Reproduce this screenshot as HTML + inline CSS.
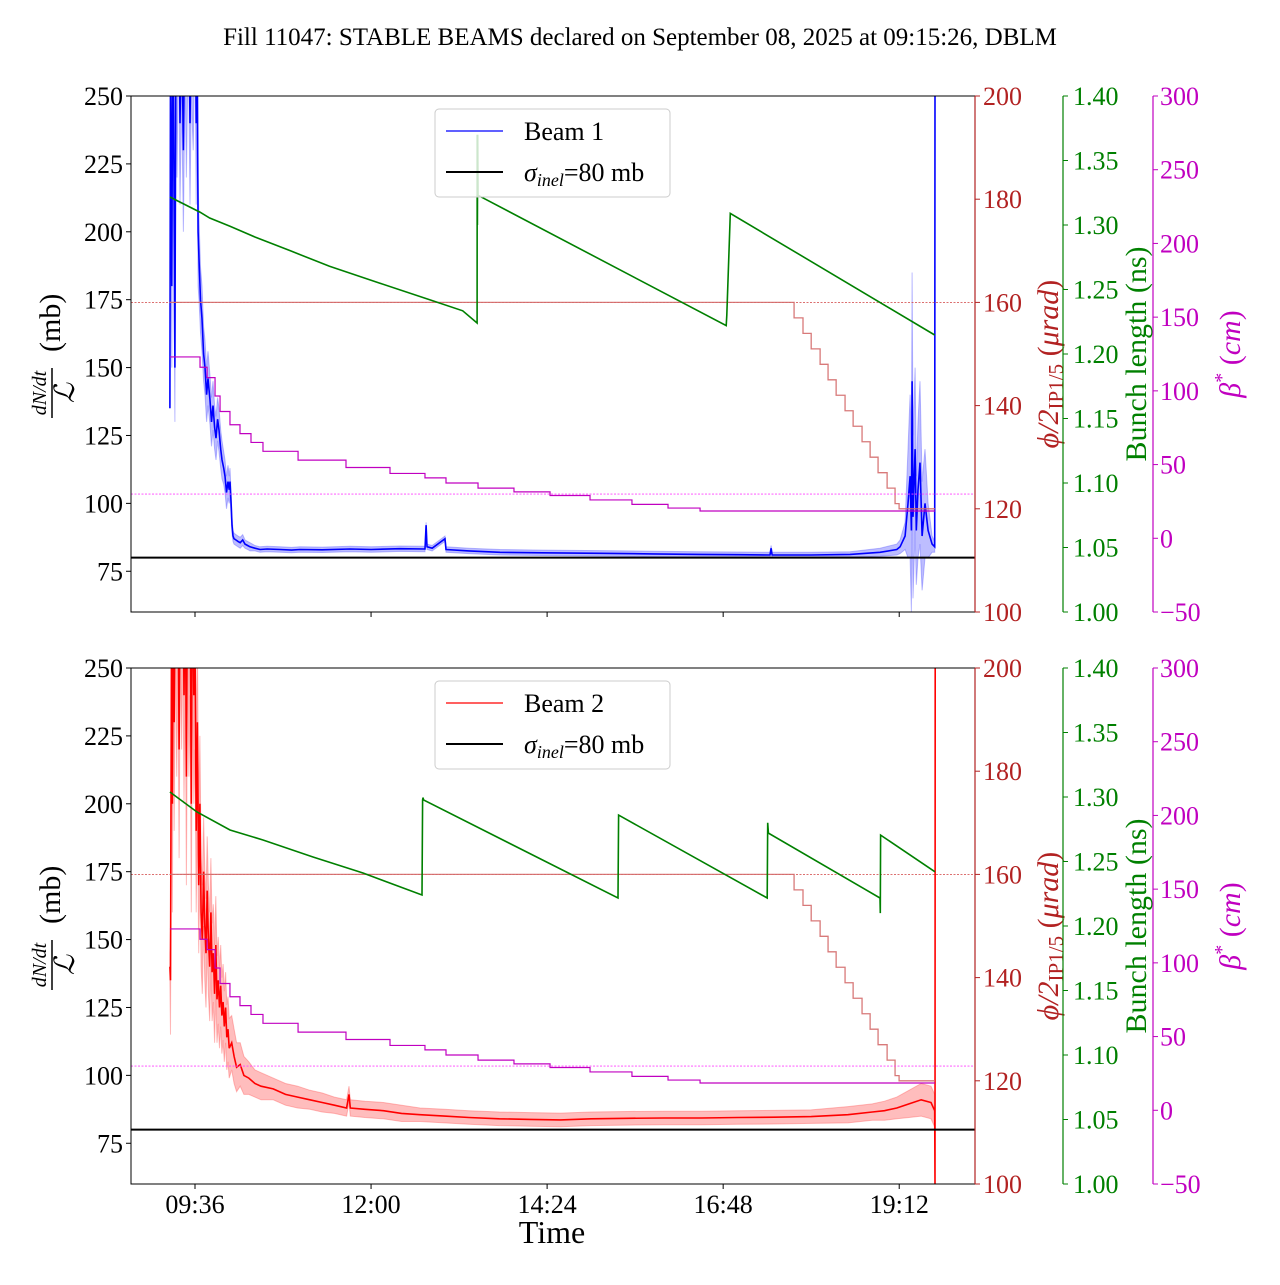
<!DOCTYPE html>
<html><head><meta charset="utf-8"><style>
html,body{margin:0;padding:0;background:#fff}
svg text{font-family:"Liberation Serif","DejaVu Serif",serif}
</style></head><body>
<svg id="fig" xmlns="http://www.w3.org/2000/svg" width="1280" height="1280" viewBox="0 0 1280 1280">
<rect width="1280" height="1280" fill="#fff"/>
<text x="640" y="45" text-anchor="middle" font-size="25">Fill 11047: STABLE BEAMS declared on September 08, 2025 at 09:15:26, DBLM</text>
<text x="552" y="1243" text-anchor="middle" font-size="32">Time</text>
</svg>
<script>
// ---- data (time in minutes of day) ----
const timeTicks = [576, 720, 864, 1008, 1152];
const timeTickLabels = ["09:36", "12:00", "14:24", "16:48", "19:12"];
const leftTicks = [75, 100, 125, 150, 175, 200, 225, 250];
const redTicks = [100, 120, 140, 160, 180, 200];
const greenTicks = [1.00, 1.05, 1.10, 1.15, 1.20, 1.25, 1.30, 1.35, 1.40];
const greenTickLabels = ["1.00","1.05","1.10","1.15","1.20","1.25","1.30","1.35","1.40"];
const magTicks = [-50, 0, 50, 100, 150, 200, 250, 300];
const magTickLabels = ["\u221250","0","50","100","150","200","250","300"];
const sigmaInel = 80;
const crossRef = 160;
const betaRef = 30;

const beam1Time = [555.5,556,557,558,559,559.6,560.5,561.3,562.5,563.7,565,566.5,567.8,569,570.5,571.9,573,574.5,576,577,577.6,578.5,579.3,580.5,581.7,583,584.2,585.5,586.6,588.3,589.5,590.7,592,593.2,594.5,595.6,597,598.1,599.5,600.5,601.8,603,604,604.6,605.5,606.3,607.1,607.9,609.5,611.2,613,615,616.9,619,621,625,629.2,635,645.5,655,661.9,680,702.8,720,743.7,764.1,765,765.8,770,780.5,781.3,800,825.5,860,907.3,950,989.1,1020,1046.3,1047.2,1048,1080,1111.8,1136.3,1150,1152.7,1156.8,1159.2,1160.9,1162,1162.5,1163.3,1165,1166,1167.4,1169,1170.7,1173.1,1175.6,1178.9,1181,1181.3];
const beam1Val = [135,265,180,300,200,150,290,250,300,240,280,230,290,250,300,240,280,260,300,240,280,200,190,175,168,155,150,140,146,138,130,136,128,124,131,127,120,116,113,110,104,108,105,108,100,92,88,87,86.5,86,85.5,86.5,85,84.5,84,83.5,83,83.2,83,82.8,83,82.9,83.2,83,83.3,83.2,92,84,83.5,87,83,82.5,82,81.8,81.6,81.4,81.2,81.1,81,83.5,81,81,81.2,82,83,84,88,100,110,90,145,95,120,90,105,115,88,100,90,85,84,250];
const beam1Err = [0,20,30,30,30,20,30,30,30,30,30,30,30,30,30,30,30,30,30,30,30,20,15,12,12,10,10,10,10,9,9,9,8,8,8,8,7,7,6,6,6,6,5,5,4,3,2,2,2,2,2,2,1.5,1.5,1.5,1,1,1,1,1,1,1,1,1,1,1,1,1,1,1,1,1,1,1,1,1,1,1,1,1,1,1,1,1.5,2,2.5,5,20,30,30,40,30,30,20,25,30,20,20,10,3,2,0];

const beam2Time = [555.5,556,556.8,557.5,558.3,559,560,561,562,563,564,565,566,567,568,569,570,571,572,573,574,575,576,577,578,579,580,581,582,583,584,585,586,587,588,589,590,591,592,593,594,595,596,597,598,599,600,601,602,603,604,606,608,610,613,616,620,625,630,640,650,660,670,680,690,700,702,703,715,730,745,760,780,800,825,850,875,900,930,960,990,1020,1050,1080,1110,1130,1140,1150,1160,1170,1178,1181,1181.3,1181.4];
const beam2Val = [140,135,260,200,300,230,300,250,290,220,300,260,300,240,290,210,300,250,280,200,300,240,260,190,230,170,200,160,150,175,155,145,168,150,140,160,138,145,130,148,128,135,125,133,122,127,118,125,114,117,110,112,107,103,104,100,99,97,96,95,93,92,91,90,89,88,93,88,87.5,87,86,85.5,85,84.5,84,83.8,83.6,84,84.2,84.3,84.3,84.5,84.6,84.8,85.5,86.5,87,88,89.5,91,90,87,60,250];
const beam2Err = [5,20,30,40,40,40,40,40,40,40,40,40,40,40,40,40,40,40,40,40,40,40,40,30,30,25,25,20,20,20,20,20,20,20,20,20,18,18,18,18,16,16,15,15,14,14,13,13,12,12,11,10,10,9,8,7,6,5,5,4,4,4,3.5,3.5,3,3,3,3,3,3,3,2.5,2.5,2.5,2.5,2.5,2.5,2.5,2.5,2.5,2.5,2.5,2.5,2.5,3,3,3.5,4,5,6,6,6,0,0];

const betaTime = [555.5,580.1,585.9,592.4,596.5,604.6,612.8,621.8,631.6,660.3,699.5,735.5,764.1,781.3,807.5,836.9,866.4,899.1,933.4,962.9,989.1];
const betaVal = [123,116,109,96.5,86,77,71,65,59,53,48,44,41,37.5,34,31.5,29,26,23,20.5,18.5];
const crossTime = [555.5,1066,1073.3,1080,1087.3,1093.8,1100.4,1107.7,1114.3,1121.6,1128.2,1134.7,1142.1,1148.6,1151.9];
const crossVal = [160,157,154,151,148,145,142,139,136,133,130,127,124,121,120];
const endTime = 1181.3;

const bl1Time = [555.5,580,588,604.6,625,654,686,727,768,795,806.7,806.8,807,807.2,807.5,1010.5,1011,1013.8,1181];
const bl1Val = [1.3217,1.310,1.3054,1.299,1.2907,1.280,1.268,1.255,1.242,1.2335,1.224,1.37,1.30,1.37,1.323,1.222,1.23,1.309,1.2147];
const bl2Time = [555.5,577.6,604.6,631.6,672.5,713.4,761.7,762.2,762.5,763,922,922.5,1044,1044.4,1045,1136.3,1136.5,1136.8,1181.3];
const bl2Val = [1.3039,1.2884,1.2744,1.2667,1.2535,1.2411,1.224,1.2977,1.2995,1.2977,1.2217,1.286,1.2217,1.28,1.272,1.2217,1.21,1.2705,1.242];

// ---- layout ----
const NS = "http://www.w3.org/2000/svg";
const svg = document.getElementById('fig');
const X0 = 131, X1 = 975, T0 = 576 - 64/1.2226, T1 = 576 + 780/1.2226;
function xs(t){ return X0 + (t - T0) / (T1 - T0) * (X1 - X0); }
function mk(tag, attrs, parent){ const e = document.createElementNS(NS, tag); for (const k in attrs) e.setAttribute(k, attrs[k]); (parent||svg).appendChild(e); return e; }
const RED = "#b22222", GRN = "#008000", MAG = "#c000c0";
const FS = 26;

function panel(idx, top, tArr, vArr, eArr, lineCol, bandCol, blT, blV, label){
  const bot = top + 516;
  const yL = v => bot - (v - 60) / 190 * 516;
  const yR = v => bot - (v - 100) / 100 * 516;
  const yG = v => bot - (v - 1.0) / 0.4 * 516;
  const yM = v => bot - (v + 50) / 350 * 516;
  const g = mk('g', {});
  
  
  const cp = mk('clipPath', {id: 'clip' + idx}, g);
  mk('rect', {x: X0, y: top, width: X1 - X0, height: 516}, cp);
  const plot = mk('g', {'clip-path': 'url(#clip' + idx + ')'}, g);

  let up = [], dn = [];
  for (let i = 0; i < tArr.length; i++){ up.push(xs(tArr[i]).toFixed(1) + ',' + yL(vArr[i] + eArr[i]).toFixed(1)); dn.unshift(xs(tArr[i]).toFixed(1) + ',' + yL(vArr[i] - eArr[i]).toFixed(1)); }
  const band = mk('polygon', {points: up.concat(dn).join(' '), fill: bandCol, stroke: bandCol, 'stroke-width': 1}, plot);
  
  
  const ln = mk('polyline', {points: tArr.map((t, i) => xs(t).toFixed(1) + ',' + yL(vArr[i]).toFixed(1)).join(' '), fill: 'none', stroke: lineCol, 'stroke-width': 1.6}, plot);
  
  
  const sl = mk('line', {x1: X0, x2: X1, y1: yL(sigmaInel), y2: yL(sigmaInel), stroke: '#000', 'stroke-width': 2}, plot);
  
  

  const lg = mk('g', {}, g);
  
  
  mk('rect', {x: 435, y: top + 13, width: 235, height: 88, rx: 4, fill: '#fff', 'fill-opacity': 0.8, stroke: '#ccc'}, lg);
  mk('line', {x1: 446, x2: 503, y1: top + 35, y2: top + 35, stroke: lineCol, 'stroke-width': 1.2}, lg);
  const t1 = mk('text', {x: 524, y: top + 44, 'font-size': 26}, lg); t1.textContent = label === 'beam-1' ? 'Beam 1' : 'Beam 2';
  
  
  mk('line', {x1: 446, x2: 503, y1: top + 76, y2: top + 76, stroke: '#000', 'stroke-width': 2}, lg);
  const t2 = mk('text', {x: 524, y: top + 85, 'font-size': 26}, lg);
  t2.innerHTML = '<tspan font-style="italic">σ</tspan><tspan font-style="italic" font-size="18" dy="5">inel</tspan><tspan dy="-5">=80 mb</tspan>';
  
  

  const cr = mk('line', {x1: X0, x2: X1, y1: yR(crossRef), y2: yR(crossRef), stroke: '#d04040', 'stroke-width': 0.8, 'stroke-dasharray': '2,1.5'}, plot);
  
  
  let cp2 = [];
  for (let i = 0; i < crossTime.length; i++){ const tn = i + 1 < crossTime.length ? crossTime[i + 1] : endTime; cp2.push(xs(crossTime[i]) + ',' + yR(crossVal[i]), xs(tn) + ',' + yR(crossVal[i])); }
  const cl = mk('polyline', {points: cp2.join(' '), fill: 'none', stroke: '#d46a6a', 'stroke-width': 1.3, 'stroke-opacity': 0.9}, plot);
  
  

  const gl = mk('polyline', {points: blT.map((t, i) => xs(t).toFixed(1) + ',' + yG(blV[i]).toFixed(1)).join(' '), fill: 'none', stroke: GRN, 'stroke-width': 1.6}, plot);
  
  

  const br = mk('line', {x1: X0, x2: X1, y1: yM(betaRef), y2: yM(betaRef), stroke: '#ff40ff', 'stroke-width': 0.8, 'stroke-dasharray': '2,1.5'}, plot);
  
  
  let bp = [];
  for (let i = 0; i < betaTime.length; i++){ const tn = i + 1 < betaTime.length ? betaTime[i + 1] : endTime; bp.push(xs(betaTime[i]) + ',' + yM(betaVal[i]), xs(tn) + ',' + yM(betaVal[i])); }
  const bl = mk('polyline', {points: bp.join(' '), fill: 'none', stroke: MAG, 'stroke-width': 1.2}, plot);
  
  

  const fr = mk('rect', {x: X0, y: top, width: X1 - X0, height: 516, fill: 'none', stroke: '#000', 'stroke-width': 1}, g);
  
  
  mk('line', {x1: X1, x2: X1, y1: top, y2: bot, stroke: RED, 'stroke-width': 1.2}, g);

  const la = mk('g', {}, g);
  
  
  leftTicks.forEach(v => { mk('line', {x1: X0 - 5, x2: X0, y1: yL(v), y2: yL(v), stroke: '#000'}, la); const t = mk('text', {x: X0 - 8, y: yL(v) + 9, 'text-anchor': 'end', 'font-size': FS}, la); t.textContent = v; });
  const yl = mk('g', {transform: 'rotate(-90)'}, g);
  
  
  const cy = top + 258;
  let tt = mk('text', {x: -(cy + 39), y: 46, 'text-anchor': 'middle', 'font-size': 20, 'font-style': 'italic'}, yl); tt.textContent = 'dN/dt';
  mk('line', {x1: -(cy + 64), x2: -(cy + 14), y1: 52, y2: 52, stroke: '#000', 'stroke-width': 1.5}, yl);
  tt = mk('text', {x: -(cy + 39), y: 74, 'text-anchor': 'middle', 'font-size': 28, 'font-style': 'italic'}, yl); tt.textContent = 'ℒ';
  tt = mk('text', {x: -(cy - 2), y: 60, 'text-anchor': 'start', 'font-size': 30}, yl); tt.textContent = '(mb)';

  const xa = mk('g', {}, g);
  
  
  timeTicks.forEach((t, i) => { mk('line', {x1: xs(t), x2: xs(t), y1: bot, y2: bot + 5, stroke: '#000'}, xa); if (idx === 1){ const tx = mk('text', {x: xs(t), y: bot + 29, 'text-anchor': 'middle', 'font-size': FS}, xa); tx.textContent = timeTickLabels[i]; } });

  const ra = mk('g', {fill: RED}, g);
  
  
  redTicks.forEach(v => { mk('line', {x1: X1, x2: X1 + 5, y1: yR(v), y2: yR(v), stroke: RED}, ra); const t = mk('text', {x: X1 + 8, y: yR(v) + 9, 'font-size': FS}, ra); t.textContent = v; });
  const rt = mk('text', {transform: 'translate(1058,' + (cy + 10) + ') rotate(-90)', 'text-anchor': 'middle', 'font-size': 30, fill: RED}, g);
  rt.innerHTML = '<tspan font-style="italic">ϕ/2</tspan><tspan font-size="21" dy="5">IP1/5</tspan><tspan dy="-5"> (</tspan><tspan font-style="italic">μrad</tspan><tspan>)</tspan>';
  
  

  const ga = mk('g', {fill: GRN}, g);
  
  
  mk('line', {x1: 1063, x2: 1063, y1: top, y2: bot, stroke: GRN, 'stroke-width': 1.2}, ga);
  greenTicks.forEach((v, i) => { mk('line', {x1: 1063, x2: 1068, y1: yG(v), y2: yG(v), stroke: GRN}, ga); const t = mk('text', {x: 1073, y: yG(v) + 9, 'font-size': FS}, ga); t.textContent = greenTickLabels[i]; });
  const gt = mk('text', {transform: 'translate(1146,' + cy + ') rotate(-90)', 'text-anchor': 'middle', 'font-size': 30, fill: GRN}, g);
  gt.textContent = 'Bunch length (ns)';
  
  

  const ma = mk('g', {fill: MAG}, g);
  
  
  mk('line', {x1: 1153, x2: 1153, y1: top, y2: bot, stroke: MAG, 'stroke-width': 1.2}, ma);
  magTicks.forEach((v, i) => { mk('line', {x1: 1153, x2: 1158, y1: yM(v), y2: yM(v), stroke: MAG}, ma); const t = mk('text', {x: 1160, y: yM(v) + 9, 'font-size': FS}, ma); t.textContent = magTickLabels[i]; });
  const mt = mk('text', {transform: 'translate(1240,' + cy + ') rotate(-90)', 'text-anchor': 'middle', 'font-size': 30, fill: MAG}, g);
  mt.innerHTML = '<tspan font-style="italic">β</tspan><tspan font-size="20" dy="-12">*</tspan><tspan dy="12"> (</tspan><tspan font-style="italic">cm</tspan><tspan>)</tspan>';
  
  
}
panel(0, 96, beam1Time, beam1Val, beam1Err, '#0000ff', 'rgba(90,90,255,0.4)', bl1Time, bl1Val, 'beam-1');
panel(1, 668, beam2Time, beam2Val, beam2Err, '#ff0000', 'rgba(255,90,90,0.4)', bl2Time, bl2Val, 'beam-2');
</script>
</body></html>
